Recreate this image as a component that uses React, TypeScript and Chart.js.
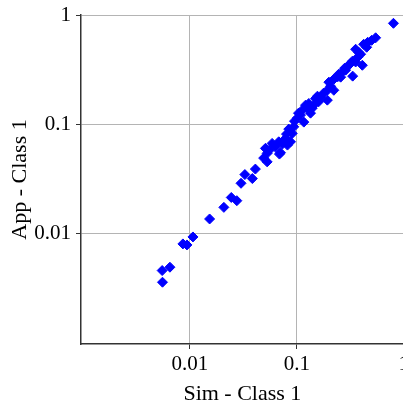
import React, { useEffect, useRef } from "react";
import { Chart, registerables } from "chart.js";

Chart.register(...registerables);

const simValues: number[] = [
  0.801, 0.546, 0.501, 0.46, 0.422, 0.355, 0.395, 0.371, 0.41, 0.331,
  0.305, 0.286, 0.333, 0.266, 0.241, 0.222, 0.1995, 0.222, 0.193, 0.207,
  0.178, 0.167, 0.15, 0.156, 0.1296, 0.1394, 0.1344, 0.1207, 0.1124, 0.1163,
  0.1083, 0.1009, 0.0937, 0.0841, 0.0906, 0.0873, 0.0784, 0.0678, 0.0704, 0.0588,
  0.0528, 0.0509, 0.049, 0.0528, 0.041, 0.0384, 0.0327, 0.0301, 0.0275, 0.0244,
  0.0208, 0.0153, 0.01069, 0.00939, 0.00861, 0.00651, 0.00551, 0.00555, 0.257, 0.319,
  0.355, 0.1037, 0.0952, 0.0801, 0.0734, 0.0818, 0.0632, 0.0555, 0.0688, 0.1597,
  0.193, 0.28, 0.246, 0.45, 0.379, 0.1434, 0.126,
];

const appValues: number[] = [
  0.839, 0.618, 0.586, 0.562, 0.539, 0.485, 0.437, 0.41, 0.346, 0.377,
  0.346, 0.312, 0.275, 0.299, 0.271, 0.258, 0.242, 0.204, 0.204, 0.222,
  0.192, 0.176, 0.1715, 0.18, 0.1543, 0.1398, 0.1258, 0.149, 0.134, 0.1041,
  0.1207, 0.1132, 0.0943, 0.0898, 0.082, 0.0687, 0.0738, 0.0687, 0.0545, 0.0664,
  0.0538, 0.0598, 0.0487, 0.045, 0.0386, 0.0316, 0.0344, 0.0286, 0.0198, 0.0212,
  0.0172, 0.01346, 0.00921, 0.00778, 0.00795, 0.00486, 0.00453, 0.00354, 0.269, 0.361,
  0.371, 0.1258, 0.1063, 0.0808, 0.0655, 0.0641, 0.0614, 0.0577, 0.053, 0.1597,
  0.1656, 0.325, 0.286, 0.506, 0.455, 0.149, 0.1398,
];

const xTickValues: number[] = [0.01, 0.1, 1];
const yTickValues: number[] = [0.01, 0.1, 1];
const xTitle = "Sim - Class 1";
const yTitle = "App - Class 1";

export default function App() {
  const canvasRef = useRef<HTMLCanvasElement | null>(null);

  useEffect(() => {
    if (!canvasRef.current) return;
    const points = simValues.map((x, i) => ({ x, y: appValues[i] }));
    const fontFamily = "'Liberation Serif', 'Times New Roman', serif";
    const chart = new Chart(canvasRef.current, {
      type: "scatter",
      data: {
        datasets: [
          {
            data: points,
            pointStyle: "rectRot",
            pointRadius: 5,
            pointBorderWidth: 1,
            backgroundColor: "#0000ff",
            borderColor: "#0000ff",
          },
        ],
      },
      options: {
        responsive: false,
        animation: false,
        layout: { autoPadding: false, padding: { top: 15, left: 0, right: 0, bottom: 0 } },
        plugins: { legend: { display: false }, tooltip: { enabled: false } },
        scales: {
          x: {
            type: "logarithmic",
            min: 0.00096,
            max: 1,
            afterBuildTicks: (scale: any) => {
              scale.ticks = xTickValues.map((v) => ({ value: v }));
            },
            afterFit: (scale: any) => {
              scale.height = 67;
            },
            ticks: {
              color: "#000",
              padding: 3,
              autoSkip: false,
              maxRotation: 0,
              font: { family: fontFamily, size: 21 },
              callback: (v: any) => String(v),
            },
            grid: { color: "#b4b4b4", lineWidth: 1, tickLength: 5, tickColor: "#333" },
            border: { color: "#333", width: 1.5 },
            title: {
              display: true,
              text: xTitle,
              color: "#000",
              font: { family: fontFamily, size: 22 },
              padding: { top: 4, bottom: 4 },
            },
          },
          y: {
            type: "logarithmic",
            min: 0.00096,
            max: 1,
            afterBuildTicks: (scale: any) => {
              scale.ticks = yTickValues.map((v) => ({ value: v }));
            },
            afterFit: (scale: any) => {
              scale.width = 81;
            },
            ticks: {
              color: "#000",
              padding: 5,
              autoSkip: false,
              font: { family: fontFamily, size: 21, lineHeight: 0.95 },
              callback: (v: any) => String(v),
            },
            grid: { color: "#b4b4b4", lineWidth: 1, tickLength: 5, tickColor: "#333" },
            border: { color: "#333", width: 1.5 },
            title: {
              display: true,
              text: yTitle,
              color: "#000",
              font: { family: fontFamily, size: 22 },
              padding: { top: 7, bottom: 4 },
            },
          },
        },
      },
    });
    return () => chart.destroy();
  }, []);

  return (
    <div style={{ position: "fixed", left: 0, top: 0, width: 403, height: 411, overflow: "hidden", background: "#fff" }}>
      <canvas ref={canvasRef} width={412} height={411} style={{ width: 412, height: 411, display: "block" }} />
    </div>
  );
}
